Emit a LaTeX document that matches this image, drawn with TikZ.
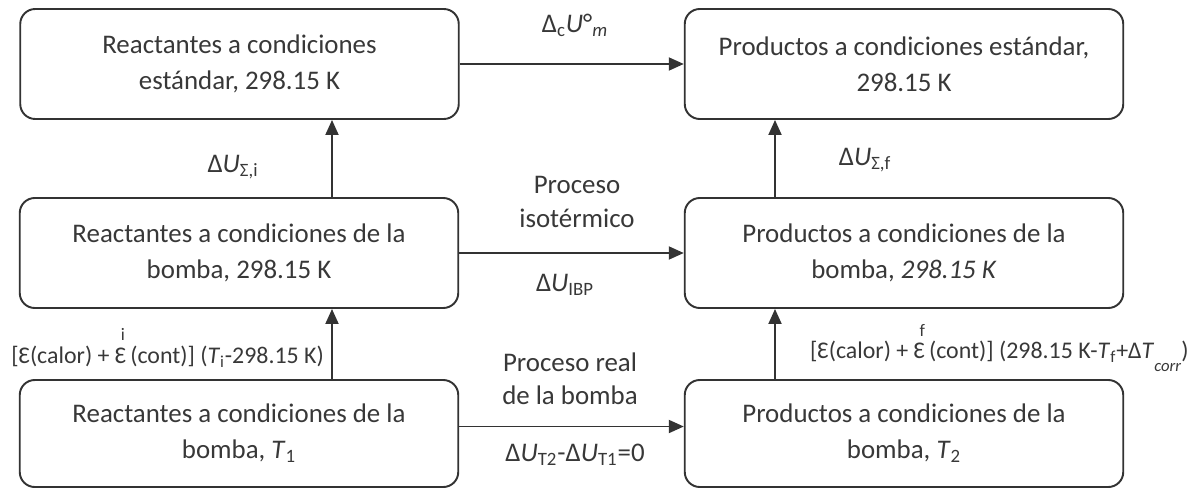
\documentclass[tikz,border=0pt]{standalone}
\usepackage{fontspec}
\setmainfont{Carlito}
\usetikzlibrary{arrows.meta}
\definecolor{linegray}{HTML}{333333}
\definecolor{textgray}{HTML}{383838}
\newcommand{\eps}[1]{\rlap{\hspace{0.25em}\raisebox{0.95em}{\fontsize{10}{10}\selectfont #1}}Ɛ}
\newcommand{\sub}[1]{\textsubscript{#1}}

\begin{document}
\begin{tikzpicture}[
        >={Triangle[length=0.3cm,width=0.26cm]},
        estado/.style={draw=linegray, line width=1.1pt, rounded corners=0.3cm,
            minimum width=8.77cm, minimum height=2.2cm, align=center,
            text=textgray, font=\fontsize{15.3}{20.5}\selectfont},
        etiqueta/.style={text=textgray, align=center, inner sep=1pt,
            font=\fontsize{15.3}{19}\selectfont},
        formula/.style={text=textgray, inner sep=1pt,
            font=\fontsize{13.6}{16}\selectfont},
        flecha/.style={->, draw=linegray, line width=1.1pt}
    ]
    \useasboundingbox (0, 0) rectangle (23.94, 9.78);

    \node[estado] (rs) at (4.79, 8.5) {Reactantes a condiciones\\ estándar, 298.15 K};
    \node[estado] (ps) at (18.08, 8.5) {Productos a condiciones estándar,\\ 298.15 K};
    \node[estado] (rb) at (4.78, 4.72) {Reactantes a condiciones de la\\ bomba, 298.15 K};
    \node[estado] (pb) at (18.08, 4.72) {Productos a condiciones de la\\ bomba, \textit{298.15 K}};
    \node[estado, minimum height=2.14cm] (r1) at (4.78, 1.11) {Reactantes a condiciones de la\\ bomba, \textit{T}\sub{1}};
    \node[estado, minimum height=2.14cm] (p2) at (18.08, 1.11) {Productos a condiciones de la\\ bomba, \textit{T}\sub{2}};

    \coordinate (xl) at (6.64, 0);
    \coordinate (xr) at (15.5, 0);

    \node[etiqueta] (duc) at (11.5, 9.28) {Δ\sub{c}\textit{U}°\sub{\textit{m}}};
    \node[etiqueta] (dui) at (4.66, 6.44) {Δ\textit{U}\sub{Σ,i}};
    \node[etiqueta] (duf) at (17.3, 6.58) {Δ\textit{U}\sub{Σ,f}};
    \node[etiqueta] (iso) at (11.54, 5.74) {Proceso\\ isotérmico};
    \node[etiqueta] (ibp) at (11.3, 4.08) {Δ\textit{U}\sub{IBP}};
    \node[etiqueta] (real) at (11.4, 2.2) {Proceso real\\ de la bomba};
    \node[etiqueta] (dut) at (11.5, 0.68) {Δ\textit{U}\sub{T2}-Δ\textit{U}\sub{T1}=0};
    \node[formula, anchor=east] (ci) at (6.52, 2.82)
        {[Ɛ(calor) + \eps{i}\,(cont)] (\textit{T}\sub{i}-298.15 K)};
    \node[formula, anchor=west] (cf) at (16.16, 2.82)
        {[Ɛ(calor) + \eps{f}\,(cont)] (298.15 K-\textit{T}\sub{f}+Δ\textit{T}\raisebox{-0.55em}{\fontsize{9.5}{10}\selectfont\textit{corr}})};

    \draw[flecha] (rs) -- (ps);
    \draw[flecha] (rb) -- (pb);
    \draw[flecha] ([yshift=0.14cm]r1.east) -- ([yshift=0.14cm]p2.west);
    \draw[flecha] (r1.north -| xl) -- (rb.south -| xl);
    \draw[flecha] (rb.north -| xl) -- (rs.south -| xl);
    \draw[flecha] (p2.north -| xr) -- (pb.south -| xr);
    \draw[flecha] (pb.north -| xr) -- (ps.south -| xr);
\end{tikzpicture}
\end{document}
